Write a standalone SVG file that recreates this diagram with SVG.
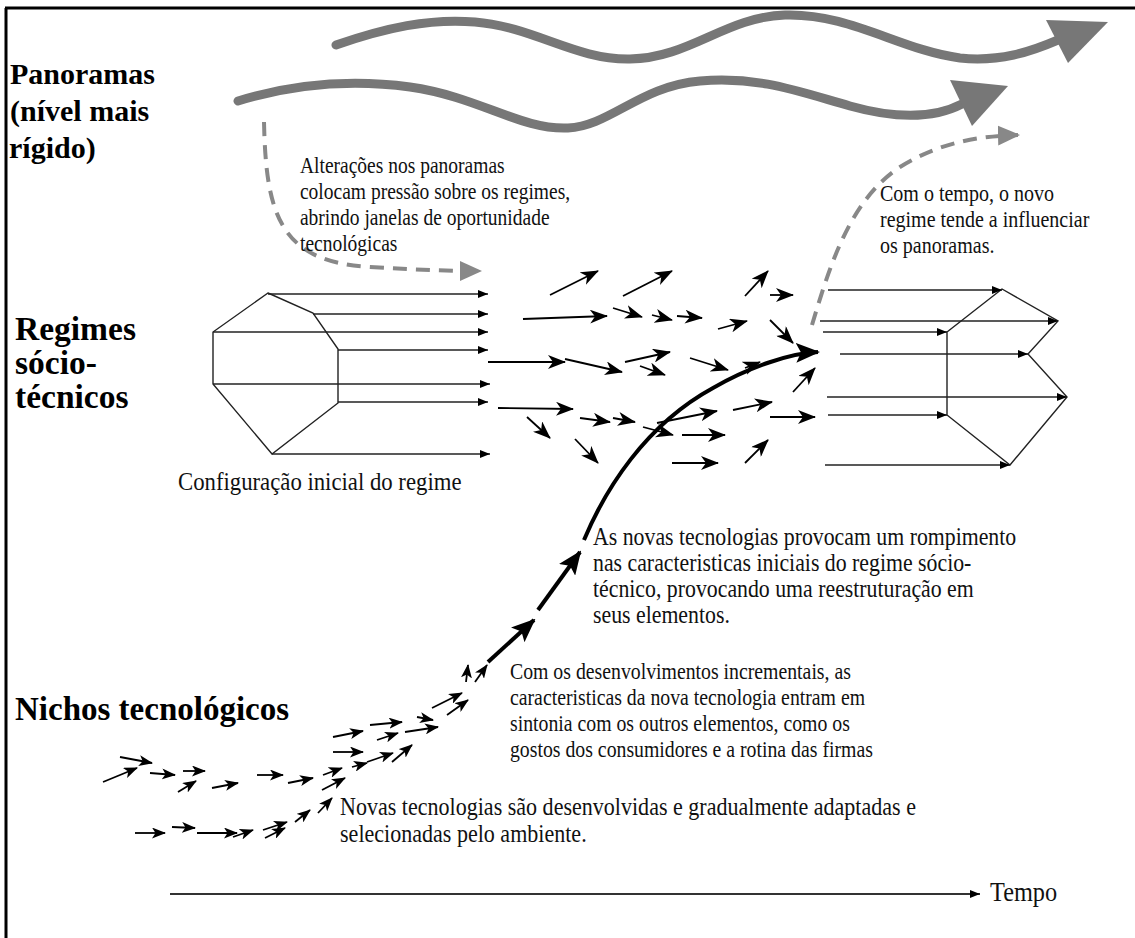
<svg xmlns="http://www.w3.org/2000/svg" width="1135" height="938" viewBox="0 0 1135 938">
<style>
.lbl{font-family:'Liberation Serif','Times New Roman',serif;font-weight:bold;fill:#000}
.txt{font-family:'Liberation Serif','Times New Roman',serif;fill:#111}
.wave{fill:none;stroke:#777;stroke-width:9;stroke-linecap:round}
.dash{fill:none;stroke:#888;stroke-width:4;stroke-dasharray:14 9}
.thin{stroke:#222;stroke-width:1.4;fill:none;marker-end:url(#hs)}
.mid{stroke:#000;stroke-width:1.8;fill:none;marker-end:url(#hm)}
.nic{stroke:#000;stroke-width:1.8;fill:none;marker-end:url(#hn)}
.poly{fill:none;stroke:#222;stroke-width:1.4}
.sc{fill:none;stroke:#000;stroke-width:4}
</style>
<defs>
<marker id="hm" viewBox="0 0 18 14" refX="17" refY="7" markerWidth="18" markerHeight="14" markerUnits="userSpaceOnUse" orient="auto"><path d="M0,0 L18,7 L0,14 L5,7 z" fill="#000"/></marker>
<marker id="hs" viewBox="0 0 10 8" refX="10" refY="4" markerWidth="10" markerHeight="8" markerUnits="userSpaceOnUse" orient="auto"><path d="M0,0 L10,4 L0,8 z" fill="#000"/></marker>
<marker id="hn" viewBox="0 0 14 11" refX="13" refY="5.5" markerWidth="14" markerHeight="11" markerUnits="userSpaceOnUse" orient="auto"><path d="M0,0 L14,5.5 L0,11 L3.5,5.5 z" fill="#000"/></marker>
<marker id="hb" viewBox="0 0 24 20" refX="22" refY="10" markerWidth="24" markerHeight="20" markerUnits="userSpaceOnUse" orient="auto"><path d="M0,0 L24,10 L0,20 L5,10 z" fill="#000"/></marker>
<marker id="hg" viewBox="0 0 22 20" refX="20" refY="10" markerWidth="22" markerHeight="20" markerUnits="userSpaceOnUse" orient="auto"><path d="M0,0 L22,10 L0,20 z" fill="#888"/></marker>
</defs>
<rect width="1135" height="938" fill="#fff"/>
<g id="frame" stroke="#000" stroke-width="3">
<line x1="5" y1="8" x2="1135" y2="8"/>
<line x1="6" y1="8" x2="6" y2="938"/>
</g>

<g id="panoramas">
<text class="lbl" font-size="30" x="10" y="84">Panoramas</text>
<text class="lbl" font-size="30" x="10" y="121">(nível mais</text>
<text class="lbl" font-size="30" x="9" y="158">rígido)</text>
<path class="wave" d="M336,45 C385,28 430,18 475,22 C535,27 575,60 630,59 C690,58 725,17 785,15 C850,13 900,50 960,58 C1000,62 1030,52 1058,40"/>
<polygon points="1046,20 1108,22 1068,63" fill="#777"/>
<path class="wave" d="M238,101 C290,85 350,79 410,87 C480,97 520,130 568,128 C610,126 640,86 700,81 C760,76 800,92 850,106 C900,120 935,118 962,104"/>
<polygon points="950,80 1008,86 972,126" fill="#777"/>
</g>

<g id="regime-left">
<text class="lbl" font-size="33.5" x="15" y="340">Regimes</text>
<text class="lbl" font-size="33.5" x="15" y="374">sócio-</text>
<text class="lbl" font-size="33.5" x="15" y="408">técnicos</text>
<polygon class="poly" points="268,293 313,313 338,349 338,403 272,454 213,384 213,332"/>
<line class="thin" x1="268" y1="294" x2="488" y2="294"/>
<line class="thin" x1="313" y1="314" x2="488" y2="314"/>
<line class="thin" x1="213" y1="332" x2="488" y2="332"/>
<line class="thin" x1="338" y1="350" x2="488" y2="350"/>
<line class="thin" x1="213" y1="384" x2="490" y2="384"/>
<line class="thin" x1="338" y1="402" x2="488" y2="402"/>
<line class="thin" x1="272" y1="454" x2="490" y2="454"/>
<text class="txt" font-size="25" transform="scale(0.91,1)" x="195.6" y="490">Configuração inicial do regime</text>
</g>

<g id="regime-right">
<polygon class="poly" points="947,332 1002,289 1058,321 1028,354 1067,397 1010,465 947,415"/>
<line class="thin" x1="828" y1="290" x2="1002" y2="290"/>
<line class="thin" x1="820" y1="321" x2="1058" y2="321"/>
<line class="thin" x1="823" y1="332" x2="947" y2="332"/>
<line class="thin" x1="840" y1="354" x2="1028" y2="354"/>
<line class="thin" x1="827" y1="397" x2="1067" y2="397"/>
<line class="thin" x1="828" y1="415" x2="947" y2="415"/>
<line class="thin" x1="825" y1="465" x2="1010" y2="465"/>
</g>

<g id="niches">
<text class="lbl" font-size="33" x="15" y="720">Nichos tecnológicos</text>
</g>

<g id="connectors">
<path class="dash" d="M264,122 C266,215 280,262 370,267 C420,270 455,271 480,271" marker-end="url(#hg)"/>
<path class="dash" d="M812,325 C830,265 850,200 900,167 C940,142 980,136 1018,135" marker-end="url(#hg)"/>
<g id="mid-arrows">
<line class="mid" x1="550" y1="295" x2="598" y2="271"/>
<line class="mid" x1="623" y1="296" x2="672" y2="271"/>
<line class="mid" x1="745" y1="296" x2="768" y2="271"/>
<line class="mid" x1="770" y1="295" x2="793" y2="295"/>
<line class="mid" x1="523" y1="319" x2="607" y2="316"/>
<line class="mid" x1="613" y1="308" x2="642" y2="317"/>
<line class="mid" x1="652" y1="315" x2="672" y2="320"/>
<line class="mid" x1="677" y1="316" x2="702" y2="318"/>
<line class="mid" x1="718" y1="329" x2="747" y2="321"/>
<line class="mid" x1="770" y1="320" x2="793" y2="343"/>
<line class="mid" x1="488" y1="362" x2="565" y2="362"/>
<line class="mid" x1="565" y1="359" x2="622" y2="372"/>
<line class="mid" x1="625" y1="362" x2="670" y2="352"/>
<line class="mid" x1="640" y1="366" x2="665" y2="375"/>
<line class="mid" x1="690" y1="358" x2="728" y2="370"/>
<line class="mid" x1="498" y1="408" x2="573" y2="409"/>
<line class="mid" x1="527" y1="417" x2="550" y2="438"/>
<line class="mid" x1="580" y1="418" x2="610" y2="422"/>
<line class="mid" x1="613" y1="418" x2="635" y2="422"/>
<line class="mid" x1="643" y1="427" x2="673" y2="435"/>
<line class="mid" x1="657" y1="423" x2="717" y2="411"/>
<line class="mid" x1="682" y1="435" x2="725" y2="435"/>
<line class="mid" x1="575" y1="439" x2="598" y2="463"/>
<line class="mid" x1="733" y1="410" x2="772" y2="402"/>
<line class="mid" x1="770" y1="417" x2="815" y2="417"/>
<line class="mid" x1="672" y1="463" x2="718" y2="463"/>
<line class="mid" x1="745" y1="463" x2="768" y2="440"/>
<line class="mid" x1="793" y1="392" x2="815" y2="368"/>
</g>
<g id="s-curve">
<line class="sc" x1="488" y1="662" x2="534" y2="620" marker-end="url(#hb)"/>
<line class="sc" x1="538" y1="610" x2="580" y2="552" marker-end="url(#hb)"/>
<path class="sc" d="M584,540 C605,490 645,425 713,388 C750,367 790,353 818,352" marker-end="url(#hb)"/>
<line class="mid" x1="745" y1="368" x2="760" y2="362"/>
</g>
<g id="niche-arrows">
<line class="nic" x1="120" y1="757" x2="152" y2="763"/>
<line class="nic" x1="103" y1="782" x2="137" y2="768"/>
<line class="nic" x1="150" y1="773" x2="175" y2="775"/>
<line class="nic" x1="183" y1="771" x2="205" y2="771"/>
<line class="nic" x1="178" y1="792" x2="196" y2="781"/>
<line class="nic" x1="212" y1="788" x2="238" y2="783"/>
<line class="nic" x1="257" y1="775" x2="283" y2="775"/>
<line class="nic" x1="288" y1="783" x2="313" y2="778"/>
<line class="nic" x1="323" y1="775" x2="342" y2="768"/>
<line class="nic" x1="322" y1="790" x2="345" y2="778"/>
<line class="nic" x1="333" y1="752" x2="363" y2="752"/>
<line class="nic" x1="333" y1="737" x2="363" y2="731"/>
<line class="nic" x1="370" y1="725" x2="402" y2="722"/>
<line class="nic" x1="377" y1="740" x2="398" y2="733"/>
<line class="nic" x1="352" y1="767" x2="367" y2="763"/>
<line class="nic" x1="367" y1="762" x2="393" y2="753"/>
<line class="nic" x1="392" y1="762" x2="412" y2="745"/>
<line class="nic" x1="405" y1="732" x2="438" y2="727"/>
<line class="nic" x1="417" y1="717" x2="433" y2="720"/>
<line class="nic" x1="432" y1="708" x2="462" y2="693"/>
<line class="nic" x1="447" y1="715" x2="468" y2="700"/>
<line class="nic" x1="466" y1="682" x2="468" y2="665"/>
<line class="nic" x1="475" y1="682" x2="487" y2="665"/>
<line class="nic" x1="135" y1="833" x2="165" y2="833"/>
<line class="nic" x1="172" y1="827" x2="195" y2="828"/>
<line class="nic" x1="197" y1="833" x2="237" y2="833"/>
<line class="nic" x1="233" y1="837" x2="253" y2="830"/>
<line class="nic" x1="263" y1="830" x2="287" y2="822"/>
<line class="nic" x1="265" y1="838" x2="285" y2="828"/>
<line class="nic" x1="295" y1="822" x2="310" y2="810"/>
<line class="nic" x1="318" y1="813" x2="332" y2="798"/>
</g>
<g id="time-axis">
<line x1="170" y1="894" x2="980" y2="894" stroke="#333" stroke-width="2.2" marker-end="url(#hs)"/>
</g>
</g>

<g id="texts">
<text class="txt" font-size="22.5" transform="scale(0.867,1)"><tspan x="346" y="173">Alterações nos panoramas</tspan><tspan x="346" y="199">colocam pressão sobre os regimes,</tspan><tspan x="346" y="225">abrindo janelas de oportunidade</tspan><tspan x="346" y="251">tecnológicas</tspan></text>
<text class="txt" font-size="23" transform="scale(0.87,1)"><tspan x="1011.5" y="201">Com o tempo, o novo</tspan><tspan x="1011.5" y="227">regime tende a influenciar</tspan><tspan x="1011.5" y="253">os panoramas.</tspan></text>
<text class="txt" font-size="24.5" transform="scale(0.89,1)"><tspan x="666.3" y="545">As novas tecnologias provocam um rompimento</tspan><tspan x="666.3" y="571">nas caracteristicas iniciais do regime sócio-</tspan><tspan x="666.3" y="597">técnico, provocando uma reestruturação em</tspan><tspan x="666.3" y="623">seus elementos.</tspan></text>
<text class="txt" font-size="23" transform="scale(0.86,1)"><tspan x="593" y="679">Com os desenvolvimentos incrementais, as</tspan><tspan x="593" y="705">caracteristicas da nova tecnologia entram em</tspan><tspan x="593" y="731">sintonia com os outros elementos, como os</tspan><tspan x="593" y="757">gostos dos consumidores e a rotina das firmas</tspan></text>
<text class="txt" font-size="24.5" transform="scale(0.9,1)"><tspan x="377.8" y="815">Novas tecnologias são desenvolvidas e gradualmente adaptadas e</tspan><tspan x="377.8" y="842">selecionadas pelo ambiente.</tspan></text>
<text class="txt" font-size="27" transform="scale(0.9,1)" x="1100" y="901">Tempo</text>
</g>
</svg>
